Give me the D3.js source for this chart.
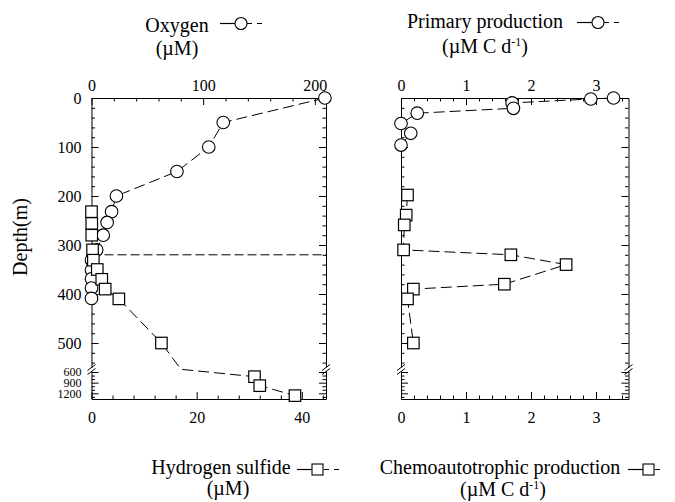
<!DOCTYPE html>
<html><head><meta charset="utf-8">
<script src="https://cdn.jsdelivr.net/npm/d3@7"></script>
<style>
body{margin:0;background:#fff}
svg{display:block}
text{font-family:"Liberation Serif","Times New Roman",serif;fill:#000}
</style>
</head><body>
<svg id="c" width="675" height="502" font-family="Liberation Serif, Times New Roman, serif"></svg>
<script>
// ---- data ----
const oxygenDepth = [0, 50, 100, 150, 200, 232, 254, 280, 310, 331, 351, 369, 388, 409];
const oxygenValue = [209, 118, 105, 76.5, 22.3, 18, 14, 10.5, 4.6, 0, 0, 0, 0, 0];

const sulfideDepth  = [232, 256, 280, 310, 331, 350, 370, 390, 410, 500, 570, 732, 985, 1265];
const sulfideValue  = [0, 0.05, 0.05, 0.2, 0.35, 1.1, 1.95, 2.6, 5.2, 13.3, 17, 31, 32, 38.7];
const sulfideMarker = [1, 1, 1, 1, 1, 1, 1, 1, 1, 1, 0, 1, 1, 1];

const primaryDepth = [0, 2, 10, 21, 31, 52, 72, 96];
const primaryValue = [3.27, 2.92, 1.71, 1.73, 0.25, 0, 0.15, 0];

const chemoDepth = [198, 239, 259, 310, 320, 340, 380, 390, 410, 500];
const chemoValue = [0.1, 0.08, 0.05, 0.04, 1.69, 2.54, 1.59, 0.19, 0.1, 0.19];

const referenceDepth = 320;

const depthTicksUpper = [0, 100, 200, 300, 400, 500];
const depthTicksLower = [600, 900, 1200];
const oxygenTicks = [0, 100, 200];
const sulfideTicks = [0, 20, 40];
const rateTicks = [0, 1, 2, 3];

// ---- setup ----
const svg = d3.select("#c");
const y = d3.scaleLinear().domain([0, 550, 600, 1360]).range([98, 367.5, 372, 399]);
const yTop = 98, yBot = 399, yBreak = 369.5;

const xO = d3.scaleLinear().domain([0, 210]).range([91.5, 326]);
const xS = d3.scaleLinear().domain([0, 44.6]).range([91.5, 326]);
const xP = d3.scaleLinear().domain([0, 3.5]).range([401, 628.5]);
const xC = d3.scaleLinear().domain([0, 3.5]).range([401, 628.5]);

const depthTicks = depthTicksUpper.concat(depthTicksLower);
const depthMinor = d3.range(20, 550, 20).filter(d => d % 100 !== 0)
  .concat([700, 800, 1000, 1100, 1300]);
const fmt = d3.format("d");

function styleAxis(g, fs) {
  g.attr("font-family", null).attr("font-size", null);
  g.selectAll("path,line").attr("stroke", "#000").attr("stroke-width", 1);
  g.selectAll("text").style("font-size", fs + "px").attr("fill", "#000");
}

function panel(xTopScale, topTicks, topMinor, xBotScale, botTicks, botMinor, showDepthLabels) {
  const [x0, x1] = xTopScale.range();
  let g = svg.append("g").attr("transform", `translate(0,${yTop})`)
    .call(d3.axisTop(xTopScale).tickValues(topTicks).tickSize(-7).tickSizeOuter(0).tickPadding(7).tickFormat(fmt));
  styleAxis(g, 16);
  g = svg.append("g").attr("transform", `translate(0,${yTop})`)
    .call(d3.axisTop(xTopScale).tickValues(topMinor).tickSize(-3.5).tickSizeOuter(0).tickFormat(""));
  g.select(".domain").remove(); styleAxis(g, 16);

  g = svg.append("g").attr("transform", `translate(0,${yBot})`)
    .call(d3.axisBottom(xBotScale).tickValues(botTicks).tickSize(-7).tickSizeOuter(0).tickPadding(13).tickFormat(fmt));
  styleAxis(g, 16);
  g = svg.append("g").attr("transform", `translate(0,${yBot})`)
    .call(d3.axisBottom(xBotScale).tickValues(botMinor).tickSize(-3.5).tickSizeOuter(0).tickFormat(""));
  g.select(".domain").remove(); styleAxis(g, 16);

  g = svg.append("g").attr("transform", `translate(${x0},0)`)
    .call(d3.axisLeft(y).tickValues(depthTicks).tickSize(-7).tickSizeOuter(0).tickPadding(10)
      .tickFormat(showDepthLabels ? fmt : ""));
  styleAxis(g, 16);
  g.selectAll(".tick text").filter(d => d >= 600).style("font-size", "12px");
  g = svg.append("g").attr("transform", `translate(${x0},0)`)
    .call(d3.axisLeft(y).tickValues(depthMinor).tickSize(-3.5).tickSizeOuter(0).tickFormat(""));
  g.select(".domain").remove(); styleAxis(g, 16);

  g = svg.append("g").attr("transform", `translate(${x1},0)`)
    .call(d3.axisRight(y).tickValues(depthTicks).tickSize(-7).tickSizeOuter(0).tickFormat(""));
  styleAxis(g, 16);
  g = svg.append("g").attr("transform", `translate(${x1},0)`)
    .call(d3.axisRight(y).tickValues(depthMinor).tickSize(-3.5).tickSizeOuter(0).tickFormat(""));
  g.select(".domain").remove(); styleAxis(g, 16);

  [x0, x1].forEach(xx => {
    svg.append("rect").attr("x", xx - 2).attr("y", yBreak - 2).attr("width", 4).attr("height", 4).attr("fill", "#fff");
    [-2, 2].forEach(o => {
      svg.append("line").attr("x1", xx - 4).attr("y1", yBreak + o + 3).attr("x2", xx + 4).attr("y2", yBreak + o - 3)
        .attr("stroke", "#000").attr("stroke-width", 1);
    });
  });
}

const minorRate = d3.range(0.2, 3.5, 0.2).filter(d => Math.abs(d - Math.round(d)) > 0.01);
panel(xO, oxygenTicks, d3.range(20, 210, 20).filter(d => d % 100 !== 0),
      xS, sulfideTicks, d3.range(4, 45, 4).filter(d => d % 20 !== 0), true);
panel(xP, rateTicks, minorRate, xC, rateTicks, minorRate, false);

svg.append("text").attr("transform", "translate(27,237) rotate(-90)")
  .attr("text-anchor", "middle").style("font-size", "20px").text("Depth(m)");

svg.append("line").attr("x1", xO(0)).attr("x2", xO(210))
  .attr("y1", y(referenceDepth)).attr("y2", y(referenceDepth))
  .attr("stroke", "#000").attr("stroke-width", 1).attr("stroke-dasharray", "9,4");

const dash = "11,5";
function seriesLine(xs, ds, vs) {
  const pts = ds.map((d, i) => [xs(vs[i]), y(d)]);
  svg.append("path").attr("d", d3.line()(pts)).attr("fill", "none")
    .attr("stroke", "#000").attr("stroke-width", 1).attr("stroke-dasharray", dash);
}
seriesLine(xO, oxygenDepth, oxygenValue);
seriesLine(xS, sulfideDepth, sulfideValue);
seriesLine(xP, primaryDepth, primaryValue);
seriesLine(xC, chemoDepth, chemoValue);

function circles(xs, ds, vs) {
  svg.append("g").selectAll("circle").data(ds).join("circle")
    .attr("cx", (d, i) => xs(vs[i])).attr("cy", d => y(d)).attr("r", 6.3)
    .attr("fill", "#fff").attr("stroke", "#000").attr("stroke-width", 1.1);
}
function squares(xs, ds, vs, flags) {
  const s = 11.5;
  svg.append("g").selectAll("rect").data(ds.map((d, i) => ({d, v: vs[i], f: flags ? flags[i] : 1})).filter(p => p.f))
    .join("rect")
    .attr("x", p => xs(p.v) - s / 2).attr("y", p => y(p.d) - s / 2).attr("width", s).attr("height", s)
    .attr("fill", "#fff").attr("stroke", "#000").attr("stroke-width", 1.2);
}
circles(xO, oxygenDepth, oxygenValue);
squares(xS, sulfideDepth, sulfideValue, sulfideMarker);
circles(xP, primaryDepth, primaryValue);
squares(xC, chemoDepth, chemoValue, null);

function unitText(x, yy, parts) {
  const t = svg.append("text").attr("x", x).attr("y", yy).attr("text-anchor", "middle").style("font-size", "20px");
  t.append("tspan").text(parts[0]);
  if (parts[1]) {
    t.append("tspan").attr("dy", -7).style("font-size", "12px").text(parts[1]);
    t.append("tspan").attr("dy", 7).text(parts[2]);
  }
}
function legendSymbol(x0, yy, shape, tail) {
  const xm = x0 + 15;
  svg.append("line").attr("x1", x0).attr("x2", xm).attr("y1", yy).attr("y2", yy).attr("stroke", "#000").attr("stroke-width", 1.2);
  svg.append("line").attr("x1", xm).attr("x2", xm + tail).attr("y1", yy).attr("y2", yy)
    .attr("stroke", "#000").attr("stroke-width", 1.2).attr("stroke-dasharray", "0,12,5,5,5,5");
  if (shape === "circle") {
    svg.append("circle").attr("cx", xm + 6).attr("cy", yy).attr("r", 6).attr("fill", "#fff").attr("stroke", "#000").attr("stroke-width", 1.1);
  } else {
    svg.append("rect").attr("x", xm).attr("y", yy - 5.5).attr("width", 11).attr("height", 11).attr("fill", "#fff").attr("stroke", "#000").attr("stroke-width", 1.1);
  }
}
function legendTitle(x, yy, s) {
  svg.append("text").attr("x", x).attr("y", yy).attr("text-anchor", "middle").style("font-size", "20px").text(s);
}

const legendTitles = ["Oxygen", "Primary production", "Hydrogen sulfide", "Chemoautotrophic production"];
const unitO = ["(\u00B5M)"], unitC = ["(\u00B5M C d", "-1", ")"];

legendTitle(177, 32, legendTitles[0]);
unitText(177, 55, unitO);
legendSymbol(220, 23.5, "circle", 31);

legendTitle(485, 28, legendTitles[1]);
unitText(485, 53, unitC);
legendSymbol(577, 22.5, "circle", 31);

legendTitle(221, 474, legendTitles[2]);
unitText(228, 495, unitO);
legendSymbol(297, 469.5, "square", 31);

legendTitle(500, 474, legendTitles[3]);
unitText(503, 496, unitC);
legendSymbol(628, 469.5, "square", 17);
</script>
</body></html>
